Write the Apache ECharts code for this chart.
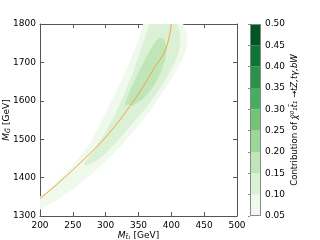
<!DOCTYPE html>
<html><head><meta charset="utf-8">
<script src="https://cdn.jsdelivr.net/npm/echarts@6/dist/echarts.min.js"></script>
<style>html,body{margin:0;padding:0;background:#fff}#c{width:320px;height:240px}</style>
</head><body><div id="c"></div>
<script>
// axis ranges / ticks
const xRange = [200, 500], xStep = 50;
const yRange = [1300, 1800], yStep = 100;
// colorbar levels and colours (Greens)
const levels = [0.05, 0.10, 0.15, 0.20, 0.25, 0.30, 0.35, 0.40, 0.45, 0.50];
const levelColors = ['#eff9ec', '#dbf1d5', '#bfe5b8', '#9cd797', '#74c476', '#47ae60', '#2a924a', '#0c7734', '#005623'];
// orange curve  (M_t1, M_G)
const curveMt = [200, 225, 250, 275, 300, 325, 350, 375, 390, 397, 400];
const curveMg = [1345, 1381, 1420, 1461, 1505, 1558, 1618, 1688, 1728, 1768, 1800];
// filled contour regions (M_t1, M_G) boundary points
const band05 = [[357,1800],[418,1800],[423,1780],[425,1758],[422,1730],[416,1705],[407,1678],[395,1645],[381,1608],[366,1570],[352,1540],[327,1490],[303,1448],[278,1408],[252,1372],[226,1342],[205,1322],[200,1316],
  [200,1350],[225,1388],[250,1432],[275,1485],[295,1550],[315,1620],[335,1695],[350,1760]];
const band10 = [[367,1800],[409,1800],[413,1778],[414,1750],[410,1720],[402,1690],[391,1655],[377,1618],[361,1582],[343,1545],[323,1505],[301,1465],[283,1440],[270,1430],
  [267,1437],[280,1466],[297,1511],[313,1560],[328,1615],[342,1675],[355,1740],[362,1775]];
const band15 = [[329,1590],[338,1630],[350,1675],[363,1718],[374,1750],[382,1765],[389,1760],[393,1740],[391,1710],[385,1678],[374,1640],[358,1606],[342,1588]];

const bands = [[band05, levelColors[0]], [band10, levelColors[1]], [band15, levelColors[2]]];

const chart = echarts.init(document.getElementById('c'), null, {renderer: 'canvas'});
const font = 'DejaVu Sans';
const axisCol = '#555';
function polySeries(pts, color) {
  return {
    type: 'custom', xAxisIndex: 0, yAxisIndex: 0, data: pts, silent: true, clip: true, z: 1,
    renderItem: (params, api) => {
      if (params.dataIndex !== 0) return;
      return {type: 'polygon', shape: {points: pts.map(p => api.coord(p))}, style: {fill: color, stroke: null}};
    }
  };
}
const mainAxisCommon = {
  axisLine: {onZero: false, lineStyle: {color: axisCol, width: 1}},
  axisTick: {inside: true, length: 4, lineStyle: {color: axisCol}},
  splitLine: {show: false},
};
const richName = {i: {fontStyle: 'italic', fontSize: 9, fontFamily: font}, s: {fontSize: 6.5, fontStyle: 'italic', fontFamily: font, padding: [4, 0, 0, 0]}};
const option = {
  animation: false,
  backgroundColor: '#fff',
  textStyle: {fontFamily: font},
  grid: [
    {left: 40, top: 24, width: 197, height: 192, containLabel: false, outerBoundsMode: 'none'},
    {left: 250, top: 24, width: 11, height: 192, containLabel: false, outerBoundsMode: 'none'}
  ],
  xAxis: [
    Object.assign({type: 'value', gridIndex: 0, position: 'bottom', min: xRange[0], max: xRange[1], interval: xStep,
      axisLabel: {fontSize: 9, color: '#000', margin: 5, fontFamily: font, formatter: v => String(v)},
      name: '{i|M}{s|t̃₁} [GeV]', nameLocation: 'middle', nameGap: 14, nameMoveOverlap: false,
      nameTextStyle: {fontSize: 9, color: '#000', fontFamily: font, rich: richName}
    }, mainAxisCommon),
    Object.assign({type: 'value', gridIndex: 0, position: 'top', min: xRange[0], max: xRange[1], interval: xStep,
      axisLabel: {show: false}}, mainAxisCommon),
    {type: 'value', gridIndex: 1, min: 0, max: 1, show: false}
  ],
  yAxis: [
    Object.assign({type: 'value', gridIndex: 0, position: 'left', min: yRange[0], max: yRange[1], interval: yStep,
      axisLabel: {fontSize: 9, color: '#000', margin: 4, fontFamily: font, formatter: v => String(v)},
      name: '{i|M}{s|G̃} [GeV]', nameLocation: 'middle', nameGap: 28, nameRotate: 90, nameMoveOverlap: false,
      nameTextStyle: {fontSize: 9, color: '#000', fontFamily: font, rich: richName}
    }, mainAxisCommon),
    Object.assign({type: 'value', gridIndex: 0, position: 'right', min: yRange[0], max: yRange[1], interval: yStep,
      axisLabel: {show: false}}, mainAxisCommon),
    {type: 'value', gridIndex: 1, position: 'right', min: levels[0], max: levels[levels.length - 1], interval: 0.05,
      axisLine: {show: false},
      axisTick: {inside: true, length: 2, lineStyle: {color: '#888'}},
      splitLine: {show: false},
      axisLabel: {fontSize: 9, color: '#000', margin: 4, fontFamily: font, formatter: v => v.toFixed(2)},
      name: 'Contribution of {m|χ̃⁰₁t̃₁ →tZ,tγ,bW}', nameLocation: 'middle', nameGap: 29, nameRotate: 90, nameMoveOverlap: false,
      nameTextStyle: {fontSize: 8.5, color: '#000', fontFamily: font, rich: {m: {fontStyle: 'italic', fontSize: 8.5, fontFamily: font}}}
    }
  ],
  series: bands.map(b => polySeries(b[0], b[1])).concat([
    {
      type: 'line', xAxisIndex: 0, yAxisIndex: 0, data: curveMt.map((m, i) => [m, curveMg[i]]),
      smooth: 0.3, showSymbol: false, symbol: 'none', z: 5, silent: true,
      lineStyle: {color: '#f5a33c', width: 1}
    },
    {
      type: 'custom', xAxisIndex: 2, yAxisIndex: 2, silent: true, z: 2,
      data: levels.slice(0, -1).map((lo, i) => [lo, levels[i + 1], i]),
      encode: {y: [0, 1]},
      renderItem: (params, api) => {
        const lo = api.value(0), hi = api.value(1);
        const p1 = api.coord([0, hi]), p2 = api.coord([1, lo]);
        return {type: 'rect', shape: {x: p1[0], y: p1[1], width: p2[0] - p1[0], height: p2[1] - p1[1]},
          style: {fill: levelColors[api.value(2)], stroke: null}};
      }
    },
    {
      type: 'custom', xAxisIndex: 2, yAxisIndex: 2, silent: true, z: 3,
      data: [[levels[0], levels[levels.length - 1]]],
      encode: {y: [0, 1]},
      renderItem: (params, api) => {
        const p1 = api.coord([0, api.value(1)]), p2 = api.coord([1, api.value(0)]);
        return {type: 'rect', shape: {x: p1[0] + 0.5, y: p1[1] + 0.5, width: p2[0] - p1[0] - 1, height: p2[1] - p1[1] - 1},
          style: {fill: 'none', stroke: '#888', lineWidth: 1}};
      }
    }
  ])
};
chart.setOption(option);
</script></body></html>
